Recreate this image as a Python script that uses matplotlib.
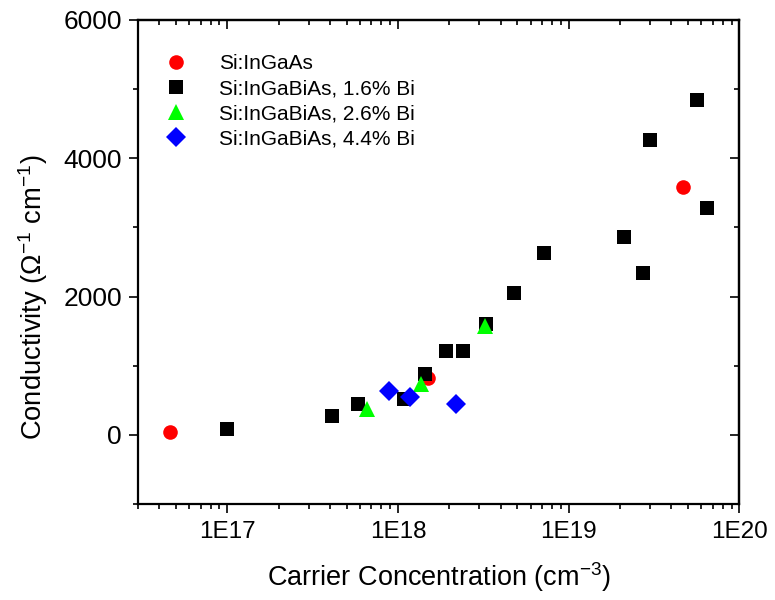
import matplotlib
matplotlib.use("Agg")
import matplotlib.pyplot as plt
from matplotlib.ticker import FixedLocator, LogLocator, FuncFormatter, NullFormatter
import numpy as np

plt.rcParams['font.family'] = ['Liberation Sans', 'DejaVu Sans']
plt.rcParams['mathtext.fontset'] = 'custom'
plt.rcParams['mathtext.rm'] = 'Liberation Sans'
plt.rcParams['mathtext.it'] = 'Liberation Sans'

# Carrier concentration (cm^-3) and conductivity (Ohm^-1 cm^-1) per sample set
ingaas_n = [4.64e16, 1.50e18, 4.68e19]
ingaas_sigma = [48, 828, 3588]

bi16_n = [1.0e17, 4.11e17, 5.81e17, 1.08e18, 1.44e18, 1.90e18, 2.40e18, 3.30e18,
          4.77e18, 7.13e18, 2.12e19, 2.73e19, 3.01e19, 5.67e19, 6.43e19]
bi16_sigma = [82, 275, 448, 520, 877, 1218, 1218, 1600,
              2056, 2634, 2857, 2337, 4263, 4840, 3280]

bi26_n = [6.59e17, 1.36e18, 3.22e18]
bi26_sigma = [376, 737, 1575]

bi44_n = [8.83e17, 1.18e18, 2.19e18]
bi44_sigma = [640, 553, 443]

series_labels = ["Si:InGaAs", "Si:InGaBiAs, 1.6% Bi",
                 "Si:InGaBiAs, 2.6% Bi", "Si:InGaBiAs, 4.4% Bi"]

x_major = [1e17, 1e18, 1e19, 1e20]
y_major = [0, 2000, 4000, 6000]
y_minor = [-1000, 1000, 3000, 5000]

fig = plt.figure(figsize=(7.75, 6.0), dpi=100)
ax = fig.add_axes([0.178, 0.16, 0.776, 0.8067])

ax.plot(ingaas_n, ingaas_sigma, 'o', color='#ff0000', markersize=10.5,
        markeredgewidth=0, label=series_labels[0], zorder=3)
ax.plot(bi16_n, bi16_sigma, 's', color='#000000', markersize=9.5,
        markeredgewidth=0, label=series_labels[1], zorder=3)
ax.plot(bi26_n, bi26_sigma, '^', color='#00ff00', markersize=12,
        markeredgewidth=0, label=series_labels[2], zorder=4)
ax.plot(bi44_n, bi44_sigma, 'D', color='#0000ff', markersize=10,
        markeredgewidth=0, label=series_labels[3], zorder=4)

ax.set_xscale('log')
ax.set_xlim(3e16, 1e20)
ax.set_ylim(-1000, 6000)

ax.xaxis.set_major_locator(FixedLocator(x_major))
ax.xaxis.set_minor_locator(LogLocator(base=10, subs=np.arange(2, 10), numticks=20))
ax.xaxis.set_major_formatter(FuncFormatter(lambda v, p: "1E%d" % round(np.log10(v))))
ax.xaxis.set_minor_formatter(NullFormatter())

ax.yaxis.set_major_locator(FixedLocator(y_major))
ax.yaxis.set_minor_locator(FixedLocator(y_minor))

for s in ax.spines.values():
    s.set_linewidth(1.6)

ax.tick_params(axis='both', which='major', length=6.5, width=1.2)
ax.tick_params(axis='both', which='minor', length=3.5, width=1.2)
ax.tick_params(axis='x', which='major', labelsize=17.5, pad=6)
ax.tick_params(axis='y', which='major', labelsize=19, pad=5)
ax.tick_params(axis='x', which='both', direction='out', bottom=True, top=False)
ax.tick_params(axis='y', which='both', direction='out', left=True, right=False)

# Mirrored inward ticks on the top and right edges
ax_top = ax.secondary_xaxis('top')
ax_top.xaxis.set_major_locator(FixedLocator(x_major))
ax_top.xaxis.set_minor_locator(LogLocator(base=10, subs=np.arange(2, 10), numticks=20))
ax_top.tick_params(which='major', direction='in', length=6.5, width=1.2, labeltop=False)
ax_top.tick_params(which='minor', direction='in', length=3.5, width=1.2)
ax_top.xaxis.set_major_formatter(NullFormatter())
ax_top.xaxis.set_minor_formatter(NullFormatter())
ax_top.spines['top'].set_linewidth(1.6)

ax_right = ax.secondary_yaxis('right')
ax_right.yaxis.set_major_locator(FixedLocator(y_major))
ax_right.yaxis.set_minor_locator(FixedLocator(y_minor))
ax_right.tick_params(which='major', direction='in', length=6.5, width=1.2, labelright=False)
ax_right.tick_params(which='minor', direction='in', length=3.5, width=1.2)
ax_right.spines['right'].set_linewidth(1.6)

ax.set_xlabel(r"Carrier Concentration (cm$^{-3}$)", fontsize=19.5, labelpad=12)
ax.set_ylabel(r"Conductivity ($\Omega^{-1}$ cm$^{-1}$)", fontsize=19.7)
ax.yaxis.set_label_coords(-0.146, 0.428)

leg = ax.legend(loc='upper left', bbox_to_anchor=(0.028, 0.947), frameon=False,
                fontsize=15, numpoints=1, handlelength=1.2, handletextpad=1.5,
                labelspacing=0.3, borderaxespad=0)

fig.savefig("out.png", dpi=100)
